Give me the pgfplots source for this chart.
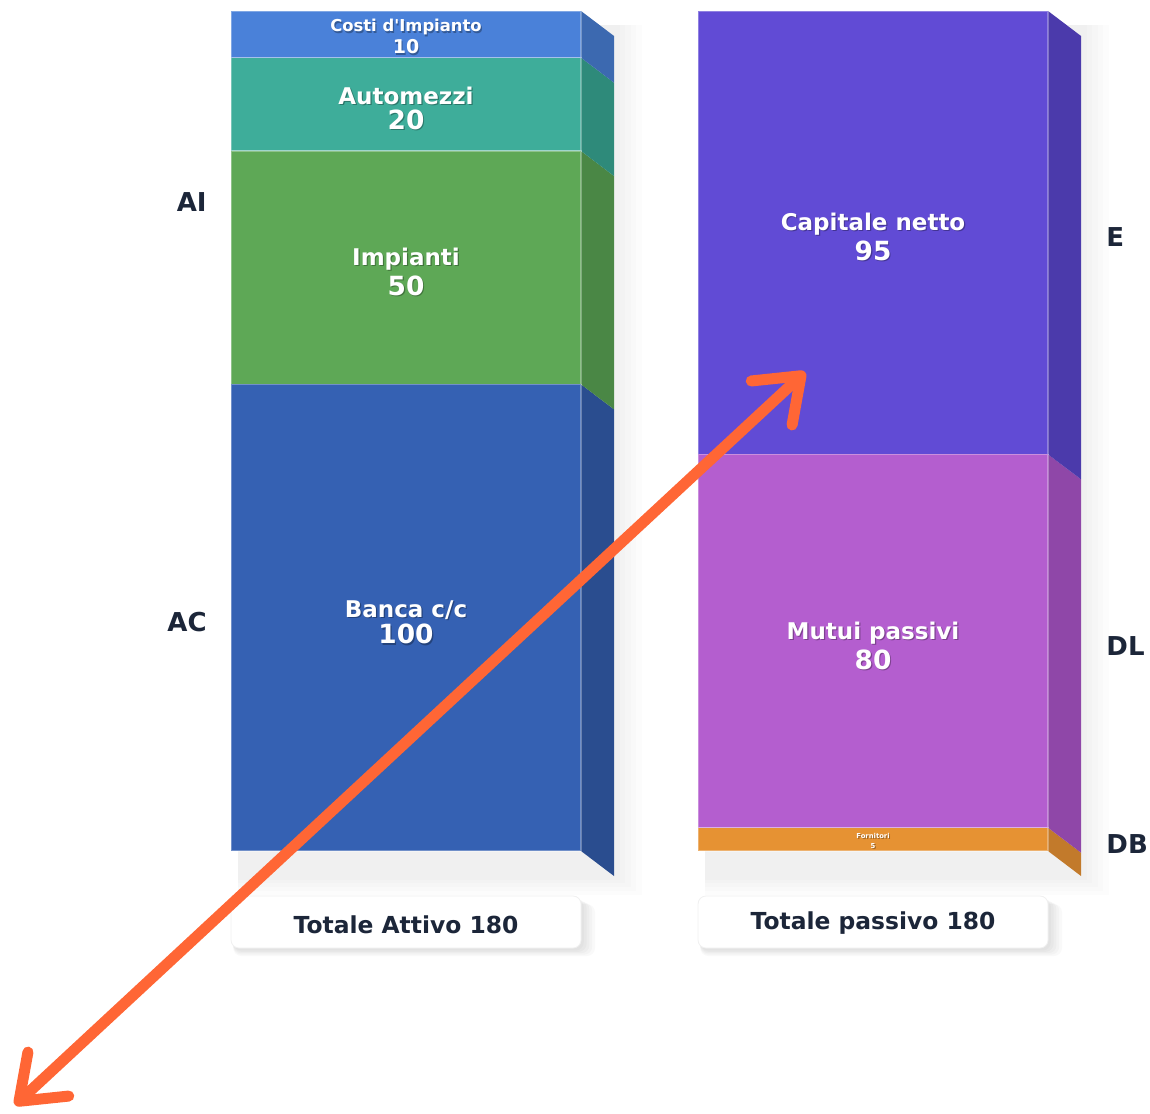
\documentclass[border=0pt]{standalone}
\usepackage{pgfplots}
\pgfplotsset{compat=1.18}
\usepackage{fontspec}
\setmainfont{DejaVu Sans}[Ligatures=TeXOff]
\usetikzlibrary{arrows.meta}

\definecolor{cCosti}{HTML}{4A81D9}
\definecolor{sCosti}{HTML}{3C69B0}
\definecolor{cAuto}{HTML}{3EAD9A}
\definecolor{sAuto}{HTML}{2E8A7A}
\definecolor{cImp}{HTML}{5EA856}
\definecolor{sImp}{HTML}{4A8745}
\definecolor{cBanca}{HTML}{3561B3}
\definecolor{sBanca}{HTML}{2A4D8F}
\definecolor{cCap}{HTML}{614BD5}
\definecolor{sCap}{HTML}{4B3AAB}
\definecolor{cMutui}{HTML}{B45ECF}
\definecolor{sMutui}{HTML}{8F47A8}
\definecolor{cForn}{HTML}{E69233}
\definecolor{sForn}{HTML}{C27A2B}
\definecolor{ink}{HTML}{1C2639}
\definecolor{arrowc}{HTML}{FF6635}

% one canvas: x = bar index, y = euro value
\pgfplotsset{canvas/.style={
  width=575pt, height=556.5pt, scale only axis,
  xmin=-0.8694, xmax=1.5931, ymin=-56.14, ymax=182.36,
  hide axis, clip=false}}

\newcommand\barlab[7]{%
  \node[inner sep=0pt, anchor=base, text=black, opacity=0.3, xshift=0.6pt, yshift=-0.6pt, font=#6] at (axis cs:#1,#2) {#3};
  \node[inner sep=0pt, anchor=base, text=white, font=#6] at (axis cs:#1,#2) {#3};
  \node[inner sep=0pt, anchor=base, text=black, opacity=0.3, xshift=0.6pt, yshift=-0.6pt, font=#7] at (axis cs:#1,#4) {#5};
  \node[inner sep=0pt, anchor=base, text=white, font=#7] at (axis cs:#1,#4) {#5};}

\newcommand\fname{\bfseries\fontsize{11.5}{13}\selectfont}
\newcommand\fval{\bfseries\fontsize{13.2}{15}\selectfont}
\newcommand\fside{\bfseries\fontsize{13}{15}\selectfont}

\begin{document}
\begin{tikzpicture}
% --- shadows, side faces, totals, group labels
\begin{axis}[canvas, name=cv]
  \foreach \k in {1,...,5} {
    \edef\tmp{\noexpand\fill[black, opacity=0.013]
      (axis cs:-0.36,{-5.36-0.8*\k}) rectangle (axis cs:{0.4454+0.012*\k},177);
      \noexpand\fill[black, opacity=0.013]
      (axis cs:0.64,{-5.36-0.8*\k}) rectangle (axis cs:{1.4454+0.012*\k},177);
      \noexpand\fill[black, opacity=0.025, rounded corners=4pt]
      (axis cs:-0.37,{-9.9-0.3*\k}) rectangle (axis cs:{0.3747+0.006*\k},{-21.0-0.3*\k});
      \noexpand\fill[black, opacity=0.025, rounded corners=4pt]
      (axis cs:0.63,{-9.9-0.3*\k}) rectangle (axis cs:{1.3747+0.006*\k},{-21.0-0.3*\k});}
    \tmp
  }
  % side faces, left bar
  \addplot[fill=sBanca, draw=none] coordinates {(0.3747,0) (0.4454,-5.36) (0.4454,94.64) (0.3747,100)} -- cycle;
  \addplot[fill=sImp, draw=none] coordinates {(0.3747,100) (0.4454,94.64) (0.4454,144.64) (0.3747,150)} -- cycle;
  \addplot[fill=sAuto, draw=none] coordinates {(0.3747,150) (0.4454,144.64) (0.4454,164.64) (0.3747,170)} -- cycle;
  \addplot[fill=sCosti, draw=none] coordinates {(0.3747,170) (0.4454,164.64) (0.4454,174.64) (0.3747,180)} -- cycle;
  % side faces, right bar
  \addplot[fill=sForn, draw=none] coordinates {(1.3747,0) (1.4454,-5.36) (1.4454,-0.36) (1.3747,5)} -- cycle;
  \addplot[fill=sMutui, draw=none] coordinates {(1.3747,5) (1.4454,-0.36) (1.4454,79.64) (1.3747,85)} -- cycle;
  \addplot[fill=sCap, draw=none] coordinates {(1.3747,85) (1.4454,79.64) (1.4454,174.64) (1.3747,180)} -- cycle;
  % totals
  \draw[fill=white, draw=black!6, rounded corners=4pt] (axis cs:-0.3747,-9.64) rectangle (axis cs:0.3747,-20.79);
  \draw[fill=white, draw=black!6, rounded corners=4pt] (axis cs:0.6253,-9.64) rectangle (axis cs:1.3747,-20.79);
  \node[inner sep=0pt, anchor=base, text=ink, font=\bfseries\fontsize{11.7}{13}\selectfont] at (axis cs:0,-17.6) {Totale Attivo 180};
  \node[inner sep=0pt, anchor=base, text=ink, font=\bfseries\fontsize{11.7}{13}\selectfont] at (axis cs:1,-16.9) {Totale passivo 180};
  % group labels
  \node[inner sep=0pt, anchor=base east, text=ink, font=\fside] at (axis cs:-0.4261,136.93) {AI};
  \node[inner sep=0pt, anchor=base east, text=ink, font=\fside] at (axis cs:-0.4261,46.93) {AC};
  \node[inner sep=0pt, anchor=base west, text=ink, font=\fside] at (axis cs:1.499,129.43) {E};
  \node[inner sep=0pt, anchor=base west, text=ink, font=\fside] at (axis cs:1.499,41.79) {DL};
  \node[inner sep=0pt, anchor=base west, text=ink, font=\fside] at (axis cs:1.499,-0.64) {DB};
\end{axis}

% --- Attivo
\begin{axis}[canvas, ybar stacked, bar width=0.7495]
  \addplot[fill=cBanca, draw=white, draw opacity=0.3, line width=0.7pt] coordinates {(0,100)};
  \addplot[fill=cImp, draw=white, draw opacity=0.3, line width=0.7pt] coordinates {(0,50)};
  \addplot[fill=cAuto, draw=white, draw opacity=0.3, line width=0.7pt] coordinates {(0,20)};
  \addplot[fill=cCosti, draw=white, draw opacity=0.3, line width=0.7pt] coordinates {(0,10)};
\end{axis}

% --- Passivo
\begin{axis}[canvas, ybar stacked, bar width=0.7495]
  \addplot[fill=cForn, draw=white, draw opacity=0.3, line width=0.7pt] coordinates {(1,5)};
  \addplot[fill=cMutui, draw=white, draw opacity=0.3, line width=0.7pt] coordinates {(1,80)};
  \addplot[fill=cCap, draw=white, draw opacity=0.3, line width=0.7pt] coordinates {(1,95)};
\end{axis}

% --- labels and arrow on top
\begin{axis}[canvas]
  \barlab{0}{175.5}{Costi d'Impianto}{170.79}{10}{\bfseries\fontsize{8.2}{9}\selectfont}{\bfseries\fontsize{9.5}{10}\selectfont}
  \barlab{0}{160.07}{Automezzi}{154.71}{20}{\fname}{\fval}
  \barlab{0}{125.57}{Impianti}{119.14}{50}{\fname}{\fval}
  \barlab{0}{50.14}{Banca c/c}{44.36}{100}{\fname}{\fval}
  \barlab{1}{2.68}{Fornitori}{0.54}{5}{\bfseries\fontsize{3.4}{4}\selectfont}{\bfseries\fontsize{3.4}{4}\selectfont}
  \barlab{1}{45.43}{Mutui passivi}{39.0}{80}{\fname}{\fval}
  \barlab{1}{133.07}{Capitale netto}{126.64}{95}{\fname}{\fval}
  \draw[arrowc, line width=5.5pt,
    {Straight Barb[length=20pt,width=30pt,round]}-{Straight Barb[length=20pt,width=30pt,round]}]
    (axis cs:-0.8373,-54.43) -- (axis cs:0.8544,102.64);
\end{axis}
\pgfresetboundingbox
\path (cv.south west) rectangle (cv.north east);
\end{tikzpicture}
\end{document}
